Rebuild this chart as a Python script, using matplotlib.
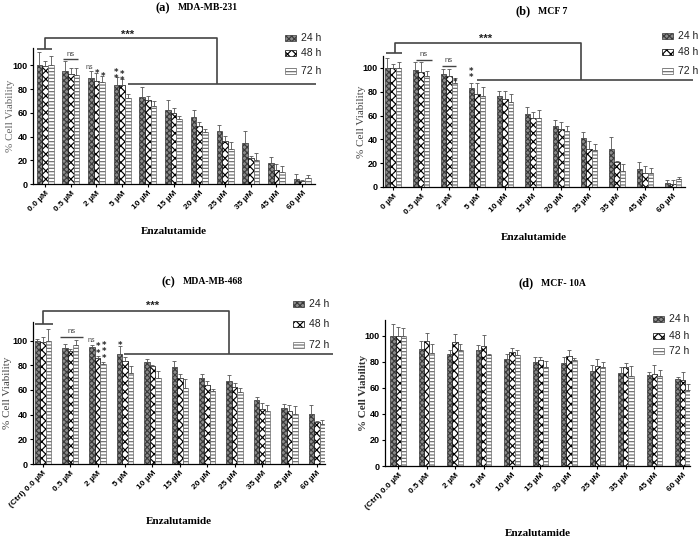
import matplotlib
matplotlib.use("Agg")
import matplotlib.pyplot as plt
import numpy as np

plt.rcParams['hatch.linewidth'] = 0.85

# ---------------- data ----------------
conc_ab = ["0.0 µM", "0.5 µM", "2 µM", "5 µM", "10 µM", "15 µM", "20 µM", "25 µM", "35 µM", "45 µM", "60 µM"]
conc_b = ["0 µM", "0.5 µM", "2 µM", "5 µM", "10 µM", "15 µM", "20 µM", "25 µM", "35 µM", "45 µM", "60 µM"]
conc_cd = ["(Ctrl) 0.0 µM", "0.5 µM", "2 µM", "5 µM", "10 µM", "15 µM", "20 µM", "25 µM", "35 µM", "45 µM", "60 µM"]
series = ["24 h", "48 h", "72 h"]

# (a) MDA-MB-231
a_24 = [100, 95, 89.3, 83, 73, 62.6, 56.5, 45, 34.5, 17.7, 4.2]
a_48 = [99.5, 93, 87, 83, 71, 60, 49, 36.5, 22, 11.5, 2.2]
a_72 = [100, 91.6, 86, 72.8, 65.5, 55, 43.5, 29.5, 20, 10, 4.8]
a_24e = [11, 8.5, 5.7, 7, 8.7, 8.5, 5.5, 5, 10.5, 5, 4.5]
a_48e = [4, 5, 6.5, 5.5, 3, 4, 3.5, 4, 2, 5.5, 1.5]
a_72e = [7.5, 6, 5, 3.2, 4.5, 2, 2.8, 5.5, 5.8, 5, 2.5]

# (b) MCF 7
b_24 = [100, 98.6, 95.2, 83, 76, 61, 51.3, 40.8, 31.5, 15.5, 3.7]
b_48 = [100, 96.3, 93.5, 78, 73.8, 57.7, 49, 32, 21, 11.8, 2.8]
b_72 = [100, 93, 87.3, 76.6, 71.3, 58.3, 47, 31, 13.5, 11.8, 7]
b_24e = [8.5, 6.5, 4.2, 4.3, 5, 6, 5, 5.7, 10.8, 5.5, 2]
b_48e = [3.4, 8.7, 6, 9.3, 7.2, 5, 5.4, 6.9, 1, 5.7, 2.8]
b_72e = [4.8, 4.7, 4, 7, 6.7, 6.5, 4.5, 5, 5.7, 4.2, 1.5]

# (c) MDA-MB-468
c_24 = [100, 93.8, 95, 89, 83, 78.4, 69.5, 67.4, 52, 45.3, 40.7]
c_48 = [99, 91.6, 85.7, 83.6, 79, 70, 63.6, 62, 44.7, 42.6, 33.7]
c_72 = [100, 96.5, 80.9, 73.6, 70, 61.5, 59.3, 58, 43, 40.4, 32.3]
c_24e = [1, 3.5, 1.5, 6.7, 2, 5.2, 3.3, 4.3, 2, 3.2, 7.3]
c_48e = [3.5, 1.4, 1.8, 3, 1.3, 3, 4, 4, 5, 5.4, 1.3]
c_72e = [9.4, 4, 2, 5.4, 5, 7.5, 1.7, 3.5, 5, 6.8, 3]

# (d) MCF-10A
d_24 = [100, 90, 86.2, 88.7, 82, 79.5, 79, 72.6, 71.3, 70, 66.7]
d_48 = [100, 96, 95, 91.8, 87.4, 81.5, 84.6, 76.4, 75.9, 70.8, 65.6]
d_72 = [100, 86.7, 89, 85, 85.4, 75.6, 81.5, 75.6, 69.2, 68.7, 58]
d_24e = [9, 5.6, 2.5, 4.3, 4, 4, 4.6, 4.6, 4.3, 2, 1.5]
d_48e = [6.4, 6, 6, 9, 3, 1.8, 4.6, 5.9, 3, 7, 6.4]
d_72e = [6, 7, 4.8, 1, 3.8, 4.7, 1.3, 4, 7.2, 5, 5]

W, H = 700, 536
fig = plt.figure(figsize=(W / 100, H / 100), dpi=100)

styles = [
    dict(facecolor="#8c8c8c", hatch="xxxxxx", edgecolor="#3a3a3a"),
    dict(facecolor="white", hatch="xxxx", edgecolor="black"),
    dict(facecolor="white", hatch="-----", edgecolor="#6a6a6a"),
]


def rect(l, r, b, t):
    return [l / W, 1 - b / H, (r - l) / W, (b - t) / H]


def panel(px, labels, vals, errs, xlim, ylim, bw, title_tag, title_name, title_y,
          xlab_y, ylab_x, leg_x, leg_ys, ylcolor="#666666", ylweight="normal"):
    ax = fig.add_axes(rect(*px))
    x = np.arange(len(labels))
    for i, (v, e, st) in enumerate(zip(vals, errs, styles)):
        xs = x + (i - 1) * bw
        ax.bar(xs, v, bw, linewidth=0.5, **st)
        ax.errorbar(xs, v, yerr=[np.zeros(len(v)), e], fmt="none", ecolor="#555555",
                    elinewidth=0.6, capsize=1.3, capthick=0.6)
    ax.set_xlim(*xlim)
    ax.set_ylim(*ylim)
    ax.set_yticks([0, 20, 40, 60, 80, 100])
    ax.set_xticks(x)
    ax.set_xticklabels(labels, rotation=45, ha="right", rotation_mode="anchor",
                       fontsize=6, fontweight="bold", family="Liberation Sans")
    for t in ax.get_yticklabels():
        t.set_fontsize(6.5)
        t.set_fontweight("bold")
        t.set_family("Liberation Sans")
    ax.tick_params(axis="both", length=2.5, width=0.8, pad=1.5)
    for s in ["top", "right"]:
        ax.spines[s].set_visible(False)
    for s in ["left", "bottom"]:
        ax.spines[s].set_linewidth(0.9)
    cx = (px[0] + px[1]) / 2
    fig.text(cx / W - 0.005, 1 - title_y / H, title_tag, ha="right", va="center",
             fontsize=9, fontweight="bold", family="Liberation Serif")
    fig.text(cx / W + 0.005, 1 - title_y / H, title_name, ha="left", va="center",
             fontsize=7, fontweight="bold", family="Liberation Serif")
    fig.text(cx / W, 1 - xlab_y / H, "Enzalutamide", ha="center", va="center",
             fontsize=8, fontweight="bold", family="Liberation Serif")
    fig.text(ylab_x / W, 1 - ((px[2] + px[3]) / 2) / H, "% Cell Viability", rotation=90,
             ha="center", va="center", fontsize=8, color=ylcolor, fontweight=ylweight,
             family="Liberation Serif")
    for name, st, ly in zip(series, styles, leg_ys):
        fig.patches.append(plt.Rectangle((leg_x / W, 1 - (ly + 3) / H), 11 / W, 6 / H,
                                         transform=fig.transFigure, linewidth=0.5, **st))
        fig.text((leg_x + 16) / W, 1 - ly / H, name, ha="left", va="center",
                 fontsize=7.5, family="Liberation Sans", color="#222222")
    return ax


def line(ax, xs, ys, lw=1.2, color="#444444"):
    ax.plot(xs, ys, color=color, lw=lw, clip_on=False, solid_capstyle="butt")


def txt(ax, x, y, s, fs=5.5, color="#444444", weight="normal"):
    ax.text(x, y, s, ha="center", va="bottom", fontsize=fs, color=color,
            fontweight=weight, clip_on=False, family="Liberation Sans")


def stars(ax, x, y0, n=1, fs=6):
    ax.text(x, y0, "\n".join(["*"] * n), ha="center", va="bottom", fontsize=fs,
            fontweight="bold", color="#222222", clip_on=False,
            family="DejaVu Sans", linespacing=0.62)


# ---------- (a) ----------
axa = panel((33, 315, 184, 47.5), conc_ab, [a_24, a_48, a_72], [a_24e, a_48e, a_72e],
            (-0.47, 10.5), (0, 115), 0.22, "(a)", "MDA-MB-231", 8, 232, 11,
            285, [38, 53, 71])
line(axa, [0.0, 0.0, 6.7, 6.7], [114, 123, 123, 84])
line(axa, [3.23, 10.55], [84, 84])
line(axa, [-0.3, 0.27], [114, 114])
txt(axa, 3.2, 121.5, "***", fs=8, weight="bold", color="#222222")
line(axa, [0.7, 1.28], [105, 105], lw=1)
txt(axa, 1.0, 106, "ns")
txt(axa, 2 - 0.27, 95, "ns", fs=5)
stars(axa, 2.03, 89)
stars(axa, 2 + 0.24, 87)
stars(axa, 3 - 0.22, 85, 2)
stars(axa, 3.0, 83.5, 2)

# ---------- (b) ----------
axb = panel((383, 685, 187, 56), conc_b, [b_24, b_48, b_72], [b_24e, b_48e, b_72e],
            (-0.36, 10.43), (0, 110), 0.2, "(b)", "MCF 7", 11, 238, 361,
            662, [36, 52, 71], ylcolor="#444444")
line(axb, [0.07, 0.07, 6.7, 6.7], [112.6, 121, 121, 90])
line(axb, [3.0, 10.7], [90, 90])
line(axb, [-0.25, 0.32], [112.6, 112.6])
txt(axb, 3.3, 120.5, "***", fs=8, weight="bold", color="#222222")
line(axb, [0.82, 1.39], [107, 107], lw=1)
txt(axb, 1.1, 108.5, "ns")
line(axb, [1.75, 2.25], [102, 102], lw=1)
txt(axb, 2.0, 103.5, "ns")
stars(axb, 2 + 0.2, 84)
stars(axb, 3 - 0.2, 88, 2)

# ---------- (c) ----------
axc = panel((33, 325, 464, 322), conc_cd, [c_24, c_48, c_72], [c_24e, c_48e, c_72e],
            (-0.36, 10.3), (0, 115), 0.2, "(c)", "MDA-MB-468", 282, 521, 8,
            293, [304, 324, 345], ylcolor="#444444")
line(axc, [0.0, 0.0, 6.8, 6.8], [113, 123.6, 123.6, 89.4])
line(axc, [2.98, 10.6], [89.4, 89.4])
line(axc, [-0.3, 0.36], [113, 113])
txt(axc, 4.0, 124, "***", fs=8, weight="bold", color="#222222")
line(axc, [0.62, 1.46], [103, 103], lw=1)
txt(axc, 1.04, 104.5, "ns")
txt(axc, 2 - 0.24, 97, "ns", fs=5)
stars(axc, 2.02, 86, 2)
stars(axc, 2 + 0.22, 82, 3)
stars(axc, 3 - 0.2, 92, 1)

# ---------- (d) ----------
axd = panel((385, 690, 466, 320), conc_cd, [d_24, d_48, d_72], [d_24e, d_48e, d_72e],
            (-0.46, 10.25), (0, 112), 0.18, "(d)", "MCF- 10A", 283, 533, 364,
            653, [319, 336, 351], ylcolor="#333333", ylweight="bold")

fig.savefig("out.png", dpi=100)
